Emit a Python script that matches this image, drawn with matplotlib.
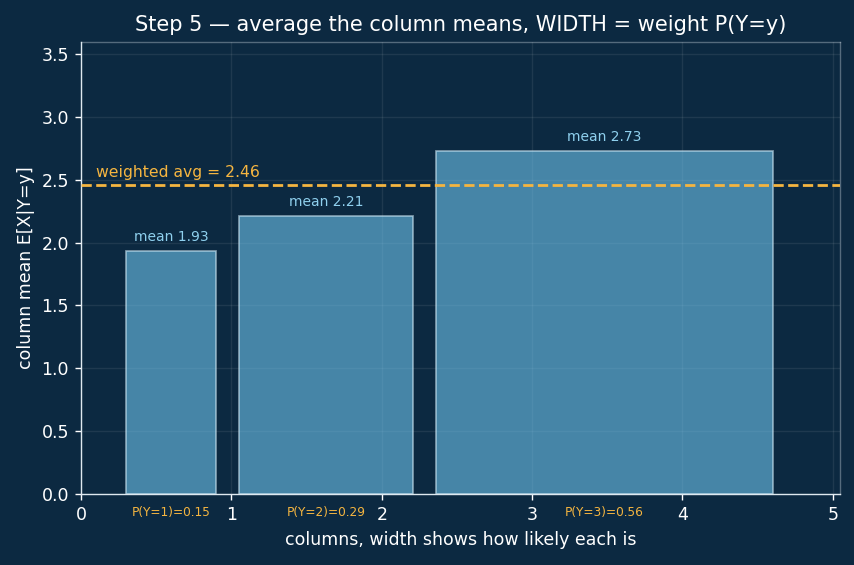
import matplotlib
matplotlib.use("Agg")
import matplotlib.pyplot as plt
import numpy as np

BG = "#0c2941"
BAR = "#6ec3ec"
ORANGE = "#f5b540"
LABEL = "#8fd0ee"

# Data
ys = [1, 2, 3]
probs = [0.15, 0.29, 0.56]
means = [1.93, 2.21, 2.73]
weighted_avg = 2.46

# width of each column is proportional to P(Y=y)
SCALE = 4.0
GAP = 0.15
START = 0.3

widths = [p * SCALE for p in probs]
lefts = []
pos = START
for w in widths:
    lefts.append(pos)
    pos += w + GAP
centers = [l + w / 2 for l, w in zip(lefts, widths)]

DPI = 125
fig = plt.figure(figsize=(854 / DPI, 565 / DPI), dpi=DPI, facecolor=BG)
ax = fig.add_axes([0.095, 0.126, 0.889, 0.8])
ax.set_facecolor(BG)

ax.grid(True, color="white", alpha=0.08, linewidth=0.8, zorder=0)
ax.bar(lefts, means, width=widths, align="edge", color=BAR, alpha=0.6,
       edgecolor="#cfe8f5", linewidth=1.0, zorder=2)

ax.axhline(weighted_avg, color=ORANGE, linestyle="--", linewidth=1.6, zorder=3)
ax.text(0.1, weighted_avg + 0.04, f"weighted avg = {weighted_avg:.2f}",
        color=ORANGE, fontsize=9, ha="left", va="bottom")

for c, m, y, p in zip(centers, means, ys, probs):
    ax.text(c, m + 0.06, f"mean {m:.2f}", color=LABEL, fontsize=8,
            ha="center", va="bottom")
    ax.text(c, -0.15, f"P(Y={y})={p:.2f}", color=ORANGE, fontsize=7,
            ha="center", va="center", clip_on=False)

ax.set_xlim(0, 5.05)
ax.set_ylim(0, 3.6)
ax.set_xticks([0, 1, 2, 3, 4, 5])
ax.set_yticks(np.arange(0, 3.51, 0.5))

ax.tick_params(colors="white", labelsize=10)
for side in ["left", "bottom"]:
    ax.spines[side].set_color("#dfe9f0")
for side in ["top", "right"]:
    ax.spines[side].set_color("#dfe9f0")
    ax.spines[side].set_alpha(0.35)

ax.set_xlabel("columns, width shows how likely each is", color="white", fontsize=10)
ax.set_ylabel("column mean E[X|Y=y]", color="white", fontsize=10)
ax.set_title("Step 5 \u2014 average the column means, WIDTH = weight P(Y=y)",
             color="white", fontsize=12)

fig.savefig("out.png", dpi=DPI, facecolor=BG)
